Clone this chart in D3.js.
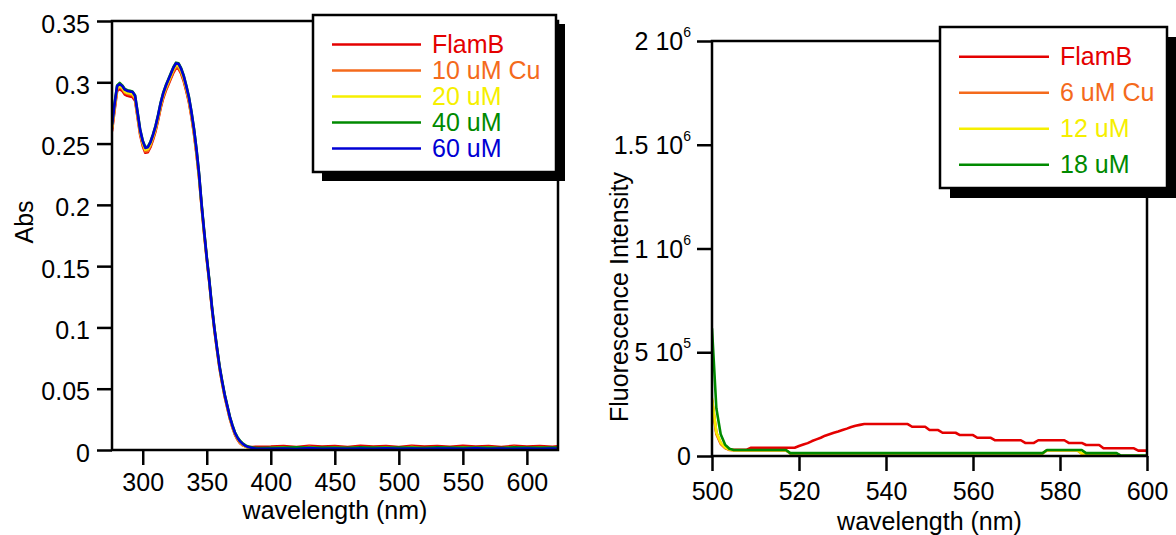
<!DOCTYPE html>
<html>
<head>
<meta charset="utf-8">
<script src="https://cdn.jsdelivr.net/npm/d3@7"></script>
<style>
  html, body { margin: 0; padding: 0; background: #fff; }
  svg { display: block; font-family: "Liberation Sans", Arial, Helvetica, sans-serif; }
</style>
</head>
<body>
<script>
// ---------------- DATA: absorbance (left chart) ----------------
const absWavelength = [
  276,278,280,282,284,286,288,290,292,294,296,298,300,302,304,306,308,310,312,314,
  316,318,320,322,324,326,328,330,332,334,336,338,340,342,344,346,348,350,352,354,
  356,358,360,362,364,366,368,370,372,374,376,378,380,382,384,386,388,390,
  400,410,420,430,440,450,460,470,480,490,500,510,520,530,540,550,560,570,580,590,
  600,610,620,624
];
const absFlamB = [
  .260,.277,.293,.2945,.293,.290,.289,.2885,.288,.285,.271,.257,.248,.2425,.243,.247,.253,.260,.269,.279,
  .287,.293,.298,.303,.308,.3115,.311,.307,.301,.293,.284,.272,.258,.241,.222,.198,.176,.1555,.1365,.1155,
  .0975,.0815,.0665,.0545,.0435,.0345,.0255,.0185,.0125,.0085,.0055,.004,.003,.0025,.0025,.0025,.0026,.0027,
  .0028,.0032,.0024,.0034,.0028,.0033,.0025,.0034,.0029,.0032,.0024,.0034,.0028,.0033,.0026,.0034,.0029,.0032,.0024,.0034,
  .0028,.0033,.0026,.003
];
const abs10uM = [
  .262,.279,.2945,.296,.2945,.2915,.2905,.290,.2895,.2865,.2725,.2585,.2495,.2435,.244,.248,.254,.261,.270,.280,
  .288,.294,.299,.304,.309,.3125,.312,.308,.302,.294,.285,.273,.259,.242,.2225,.1985,.1765,.156,.137,.116,
  .098,.082,.067,.055,.044,.035,.026,.019,.013,.009,.006,.004,.003,.002,.0015,.001,.0008,.0006,
  .001,.0015,.0012,.0016,.0011,.0014,.0012,.0016,.001,.0015,.0012,.0016,.0011,.0014,.0012,.0016,.001,.0015,.0012,.0016,
  .0011,.0014,.0012,.001
];
const abs20uM = [
  .263,.280,.2955,.297,.2955,.2925,.2915,.291,.2905,.2875,.2735,.2595,.2505,.2450,.2455,.2495,.2555,.2625,.2715,.2815,
  .2895,.2955,.3005,.3055,.3105,.3140,.3135,.3095,.3035,.2955,.2865,.2745,.2605,.2435,.2235,.1990,.1770,.1565,.1375,.1165,
  .0985,.0825,.0675,.0555,.0445,.0355,.0265,.0195,.0135,.0095,.0065,.0045,.003,.002,.0015,.001,.0008,.0006,
  .0015,.0022,.0012,.0024,.0014,.0021,.0013,.0023,.0015,.0022,.0012,.0024,.0014,.0021,.0013,.0023,.0015,.0022,.0012,.0024,
  .0014,.0021,.0013,.0015
];
const abs40uM = [
  .266,.283,.2975,.2995,.2975,.2945,.2935,.293,.2925,.2895,.2755,.2615,.2525,.247,.2475,.2515,.2575,.2645,.2735,.2835,
  .2915,.2975,.3025,.3075,.3125,.316,.3155,.3115,.3055,.2975,.2885,.2765,.2625,.2455,.2255,.2005,.1785,.1575,.1385,.1175,
  .0995,.0835,.0685,.0565,.0455,.0365,.0275,.0205,.0145,.0105,.0075,.0055,.004,.003,.0025,.002,.0018,.0015,
  .0018,.002,.0022,.0019,.0021,.002,.0018,.0022,.002,.0019,.0021,.002,.0018,.0022,.002,.0019,.0021,.002,.0018,.0022,
  .002,.0019,.0021,.002
];
const abs60uM = [
  .265,.282,.297,.2985,.297,.294,.293,.2925,.292,.289,.275,.261,.252,.2465,.247,.251,.257,.264,.273,.283,
  .291,.297,.302,.307,.312,.3155,.315,.311,.305,.297,.288,.276,.262,.245,.225,.200,.178,.157,.138,.117,
  .099,.083,.068,.056,.045,.036,.027,.020,.014,.010,.007,.005,.0035,.0025,.002,.0015,.0012,.001,
  .001,.0012,.0008,.0015,.001,.0012,.0009,.0011,.001,.0013,.001,.0012,.0009,.0011,.0012,.001,.0013,.001,.0012,.0009,
  .0011,.001,.0012,.001
];
const absSeriesNames = ["FlamB", "10 uM Cu", "20 uM", "40 uM", "60 uM"];
const absXTicks = [300, 350, 400, 450, 500, 550, 600];
const absYTicks = [0, 0.05, 0.1, 0.15, 0.2, 0.25, 0.3, 0.35];
const absYTickLabels = ["0", "0.05", "0.1", "0.15", "0.2", "0.25", "0.3", "0.35"];

// ---------------- DATA: fluorescence (right chart) ----------------
const fluorWavelength = [
  500,501,502,503,504,505,506,507,508,509,
  510,511,512,513,514,515,516,517,518,519,
  520,521,522,523,524,525,526,527,528,529,
  530,531,532,533,534,535,536,537,538,539,
  540,541,542,543,544,545,546,547,548,549,
  550,551,552,553,554,555,556,557,558,559,
  560,561,562,563,564,565,566,567,568,569,
  570,571,572,573,574,575,576,577,578,579,
  580,581,582,583,584,585,586,587,588,589,
  590,591,592,593,594,595,596,597,598,599,
  600
];
const fluorFlamB = [
  270e3,112e3,62e3,40e3,31e3,30e3,30e3,30e3,30e3,40e3,
  40e3,40e3,40e3,40e3,40e3,40e3,40e3,40e3,40e3,40e3,
  48e3,55e3,62e3,72e3,80e3,88e3,98e3,105e3,112e3,118e3,
  125e3,132e3,140e3,146e3,150e3,154e3,154e3,154e3,154e3,154e3,
  154e3,154e3,154e3,154e3,154e3,154e3,141e3,141e3,141e3,141e3,
  125e3,125e3,125e3,112e3,112e3,112e3,112e3,101e3,101e3,101e3,
  101e3,88e3,88e3,88e3,88e3,76e3,76e3,76e3,76e3,76e3,
  76e3,76e3,63e3,63e3,63e3,76e3,76e3,76e3,76e3,76e3,
  76e3,76e3,63e3,63e3,63e3,63e3,53e3,53e3,53e3,53e3,
  37e3,37e3,37e3,37e3,37e3,37e3,37e3,37e3,26e3,26e3,
  26e3
];
const fluor6uM = [
  250e3,105e3,58e3,38e3,29e3,27e3,27e3,27e3,27e3,27e3,
  27e3,27e3,27e3,27e3,27e3,27e3,27e3,27e3,12e3,12e3,
  12e3,12e3,12e3,12e3,12e3,12e3,12e3,12e3,12e3,12e3,
  12e3,12e3,12e3,12e3,12e3,12e3,12e3,12e3,12e3,12e3,
  12e3,12e3,12e3,12e3,12e3,12e3,12e3,12e3,12e3,12e3,
  12e3,12e3,12e3,12e3,12e3,12e3,12e3,12e3,12e3,12e3,
  12e3,12e3,12e3,12e3,12e3,12e3,12e3,12e3,12e3,12e3,
  12e3,12e3,12e3,12e3,12e3,12e3,12e3,27e3,27e3,27e3,
  27e3,27e3,27e3,27e3,27e3,11e3,11e3,11e3,11e3,11e3,
  11e3,11e3,11e3,11e3,0,0,0,0,0,0,
  0
];
const fluor12uM = [
  280e3,115e3,65e3,42e3,31e3,28e3,28e3,28e3,28e3,28e3,
  28e3,28e3,28e3,28e3,28e3,28e3,28e3,28e3,13e3,13e3,
  13e3,13e3,13e3,13e3,13e3,13e3,13e3,13e3,13e3,13e3,
  13e3,13e3,13e3,13e3,13e3,13e3,13e3,13e3,13e3,13e3,
  13e3,13e3,13e3,13e3,13e3,13e3,13e3,13e3,13e3,13e3,
  13e3,13e3,13e3,13e3,13e3,13e3,13e3,13e3,13e3,13e3,
  13e3,13e3,13e3,13e3,13e3,13e3,13e3,13e3,13e3,13e3,
  13e3,13e3,13e3,13e3,13e3,13e3,13e3,28e3,28e3,28e3,
  28e3,28e3,28e3,28e3,28e3,12e3,12e3,12e3,12e3,12e3,
  12e3,12e3,12e3,12e3,0,0,0,0,0,0,
  0
];
const fluor18uM = [
  615e3,230e3,105e3,55e3,35e3,29e3,29e3,29e3,29e3,29e3,
  29e3,29e3,29e3,29e3,29e3,29e3,29e3,29e3,14e3,14e3,
  14e3,14e3,14e3,14e3,14e3,14e3,14e3,14e3,14e3,14e3,
  14e3,14e3,14e3,14e3,14e3,14e3,14e3,14e3,14e3,14e3,
  14e3,14e3,14e3,14e3,14e3,14e3,14e3,14e3,14e3,14e3,
  14e3,14e3,14e3,14e3,14e3,14e3,14e3,14e3,14e3,14e3,
  14e3,14e3,14e3,14e3,14e3,14e3,14e3,14e3,14e3,14e3,
  14e3,14e3,14e3,14e3,14e3,14e3,14e3,29e3,29e3,29e3,
  29e3,29e3,29e3,29e3,29e3,29e3,14e3,14e3,14e3,14e3,
  14e3,14e3,14e3,14e3,2e3,2e3,2e3,2e3,2e3,2e3,
  2e3
];
const fluorSeriesNames = ["FlamB", "6 uM Cu", "12 uM", "18 uM"];
const fluorXTicks = [500, 520, 540, 560, 580, 600];
const fluorYTicks = [0, 5e5, 1e6, 1.5e6, 2e6];
const fluorYTickMantissa = ["0", "5 10", "1 10", "1.5 10", "2 10"];
const fluorYTickExponent = ["", "5", "6", "6", "6"];

const colors = ["#e40000", "#f46a1c", "#f6ef00", "#008a00", "#0000d4"];

// ---------------- DRAWING ----------------
const W = 1176, H = 535;
const svg = d3.select("body").append("svg").attr("width", W).attr("height", H);
const FS = 25;

function frame(g, x0, x1, y0, y1) {
  g.append("rect").attr("x", x0).attr("y", y1).attr("width", x1 - x0).attr("height", y0 - y1)
    .attr("fill", "none").attr("stroke", "#000").attr("stroke-width", 2.5);
}

function legend(g, bx, by, bw, bh, off, lx0, lx1, tx, ly0, dy, names, cols) {
  g.append("rect").attr("x", bx + off).attr("y", by + off).attr("width", bw).attr("height", bh).attr("fill", "#000");
  g.append("rect").attr("x", bx).attr("y", by).attr("width", bw).attr("height", bh)
    .attr("fill", "#fff").attr("stroke", "#000").attr("stroke-width", 2.5);
  names.forEach((n, i) => {
    const yy = ly0 + i * dy;
    g.append("line").attr("x1", lx0).attr("x2", lx1).attr("y1", yy).attr("y2", yy)
      .attr("stroke", cols[i]).attr("stroke-width", 2.5);
    g.append("text").attr("x", tx).attr("y", yy + 8).attr("font-size", FS).attr("fill", cols[i]).text(n);
  });
}

// ---- Left chart ----
{
  const L = 112, R = 558, T = 21, B = 450;
  const x = d3.scaleLinear().domain([276, 624.3]).range([L, R]);
  const y = d3.scaleLinear().domain([0, 0.35]).range([B, T]);
  const g = svg.append("g");

  g.append("clipPath").attr("id", "clipL").append("rect").attr("x", L).attr("y", T).attr("width", R - L).attr("height", B - T);

  const series = [absFlamB, abs10uM, abs20uM, abs40uM, abs60uM];
  const line = d3.line().x((d, i) => x(absWavelength[i])).y(d => y(d));
  series.forEach((s, k) => {
    g.append("path").datum(s).attr("d", line).attr("fill", "none")
      .attr("stroke", colors[k]).attr("stroke-width", 2.6).attr("stroke-linejoin", "round")
      .attr("clip-path", "url(#clipL)");
  });

  const xa = g.append("g").attr("transform", `translate(0,${B})`)
    .call(d3.axisBottom(x).tickValues(absXTicks).tickSize(15).tickSizeOuter(0).tickPadding(8));
  const ya = g.append("g").attr("transform", `translate(${L},0)`)
    .call(d3.axisLeft(y).tickValues(absYTicks).tickFormat((d, i) => absYTickLabels[i]).tickSize(15).tickSizeOuter(0).tickPadding(7));
  [xa, ya].forEach(a => {
    a.select(".domain").remove();
    a.selectAll(".tick line").attr("stroke", "#000").attr("stroke-width", 2.5);
    a.selectAll(".tick text").attr("font-size", FS).attr("fill", "#000").attr("font-family", null);
  });
  ya.selectAll(".tick text").attr("dy", "0.44em");

  frame(g, L, R, B, T);

  g.append("text").attr("x", (L + R) / 2).attr("y", 519).attr("text-anchor", "middle").attr("font-size", FS).text("wavelength (nm)");
  g.append("text").attr("transform", "translate(33,222) rotate(-90)").attr("text-anchor", "middle").attr("font-size", FS).text("Abs");

  legend(g, 313, 15, 243, 157, 9, 332, 421, 432, 44.5, 26, absSeriesNames, colors);
}

// ---- Right chart ----
{
  const L = 712, R = 1147, T = 41, B = 456;
  const x = d3.scaleLinear().domain([500, 600]).range([L, R]);
  const y = d3.scaleLinear().domain([0, 2e6]).range([B, T]);
  const g = svg.append("g");

  g.append("clipPath").attr("id", "clipR").append("rect").attr("x", L).attr("y", T).attr("width", R - L).attr("height", B - T);

  const series = [fluorFlamB, fluor6uM, fluor12uM, fluor18uM];
  const line = d3.line().x((d, i) => x(fluorWavelength[i])).y(d => y(d));
  series.forEach((s, k) => {
    g.append("path").datum(s).attr("d", line).attr("fill", "none")
      .attr("stroke", colors[k]).attr("stroke-width", 2.6).attr("stroke-linejoin", "round")
      .attr("clip-path", "url(#clipR)");
  });

  const xa = g.append("g").attr("transform", `translate(0,${B})`)
    .call(d3.axisBottom(x).tickValues(fluorXTicks).tickSize(15).tickSizeOuter(0).tickPadding(11));
  const ya = g.append("g").attr("transform", `translate(${L},0)`)
    .call(d3.axisLeft(y).tickValues(fluorYTicks).tickFormat("").tickSize(15).tickSizeOuter(0));
  [xa, ya].forEach(a => {
    a.select(".domain").remove();
    a.selectAll(".tick line").attr("stroke", "#000").attr("stroke-width", 2.5);
    a.selectAll(".tick text").attr("font-size", FS).attr("fill", "#000").attr("font-family", null);
  });

  fluorYTicks.forEach((v, i) => {
    const t = g.append("text").attr("x", L - 21).attr("y", y(v) + 9).attr("text-anchor", "end").attr("font-size", FS);
    t.append("tspan").text(fluorYTickMantissa[i]);
    if (fluorYTickExponent[i]) {
      t.append("tspan").attr("font-size", 14).attr("dy", -13).text(fluorYTickExponent[i]);
    }
  });

  frame(g, L, R, B, T);

  g.append("text").attr("x", (L + R) / 2).attr("y", 530).attr("text-anchor", "middle").attr("font-size", FS).text("wavelength (nm)");
  g.append("text").attr("transform", "translate(628,297) rotate(-90)").attr("text-anchor", "middle").attr("font-size", FS).text("Fluorescence Intensity");

  legend(g, 940, 27, 227, 161, 10, 959, 1049, 1060, 56.7, 36, fluorSeriesNames, colors);
}
</script>
</body>
</html>
